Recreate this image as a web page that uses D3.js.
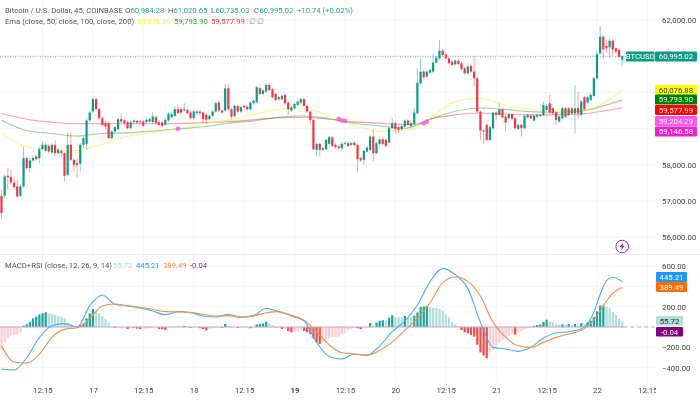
<!DOCTYPE html>
<html><head><meta charset="utf-8">
<script src="https://cdn.jsdelivr.net/npm/d3@7"></script>
<style>
html,body{margin:0;padding:0;background:#fff;overflow:hidden}
svg{display:block;filter:blur(0.35px)}
text{font-family:Roboto,sans-serif}
</style></head><body><div id="chart"></div>
<script>
const opens=[57144,57144,57696,57660,57510,57402,57144,57402,58184,57908,
58120,58230,58184,58432,58386,58524,58340,58552,58322,58386,
58322,57724,58552,58138,58046,58028,58552,58580,59224,59472,
59812,59536,59288,59150,59150,58736,58920,58984,59260,59224,
59178,59012,59178,59214,59196,59196,59178,59196,59178,59316,
59178,59168,59104,59224,59316,59352,59536,59536,59500,59518,
59444,59288,59426,59472,59444,59380,59260,59352,59472,59720,
59498,59498,60114,59534,59350,59626,59470,59626,59608,59534,
59700,59728,60114,59958,60022,60206,60086,59958,59810,59810,
59930,59718,59498,59562,59654,59718,59810,59626,59470,59240,
58412,58578,58412,58430,58578,58752,58550,58504,58458,58578,
58596,58550,58614,58550,58182,58136,58366,58412,58780,58320,
58578,58706,58688,58614,59010,59148,59038,58982,59056,59222,
59074,59130,59424,60252,60574,60436,60546,60574,60822,60942,
61154,61052,60942,60850,60776,60878,60804,60666,60528,60730,
60574,60390,59470,58918,59102,58688,59010,59442,59378,59534,
59332,59286,59396,59286,58992,59102,59010,59314,59350,59222,
59332,59378,59378,59516,59700,59562,59452,59194,59286,59562,
59378,59562,59424,59562,59378,59866,59718,59792,59902,60390,
61080,61540,61282,61246,61430,61218,61172,60900];
const highs=[57310,57724,57908,57862,57660,57586,57450,58506,58230,58184,
58248,58276,58506,58644,58600,58580,58600,58672,58460,58430,
58360,58874,58874,58180,58184,58600,58780,59270,59480,59850,
59868,59570,59330,59224,59200,58960,59080,59300,59408,59270,
59220,59220,59260,59250,59240,59240,59280,59300,59444,59360,
59220,59210,59280,59450,59450,59620,59656,59580,59702,59560,
59490,59520,59520,59510,59480,59420,59390,59510,59750,59770,
59540,60234,60234,59570,59670,59670,59630,59660,59650,59760,
59810,60180,60160,60090,60250,60270,60130,60000,59900,59940,
59970,59750,59630,59720,59780,59850,59850,59660,59500,59270,
58610,58610,58490,58720,58800,58790,58590,58540,58620,58650,
58640,58630,58660,58590,58220,58420,58510,58820,58982,58630,
58750,58750,58730,59050,59286,59190,59080,59110,59260,59260,
59240,59560,60666,60942,60620,60620,60660,61052,61000,61448,
61200,61100,60980,60890,60920,60920,60840,60700,60750,60770,
61006,60420,59500,58980,59140,59075,59480,59480,59700,59570,
59370,59430,59430,59320,59140,59140,59390,59420,59390,59390,
59410,59410,59746,59680,59930,59600,59480,59370,59600,59600,
59600,59600,60206,60022,59790,59900,59900,59970,60430,61126,
61834,61580,61450,61480,61470,61250,61210,61020];
const lows=[56528,57080,57310,57450,57310,57080,57106,57356,57862,57788,
58092,58120,58046,58414,58340,58320,58300,58230,58280,58230,
57540,57680,58100,57815,57660,57815,58460,58414,59190,59430,
59500,59250,59060,58966,58700,58700,58870,58950,59160,59100,
58980,58990,59130,59130,59130,59040,59130,59160,59130,59110,
59060,59040,59070,59190,59280,59320,59390,59400,59470,59390,
59250,59250,59390,59390,59150,59150,59220,59320,59440,59460,
59400,59460,59500,59258,59310,59430,59430,59550,59500,59500,
59660,59690,59920,59920,59990,60030,59830,59740,59770,59770,
59660,59378,59460,59530,59620,59680,59590,59440,59100,58400,
58228,58228,58380,58400,58540,58490,58450,58420,58400,58540,
58490,58510,58510,57814,58080,57990,58330,58380,58090,58290,
58540,58540,58480,58580,58980,58860,58880,58950,59020,59070,
59030,59090,59390,60220,60380,60400,60510,60540,60790,60900,
61000,60910,60770,60720,60740,60750,60600,60490,60490,60540,
60160,59440,58688,58578,58650,58650,58970,59240,59350,59280,
58918,59250,59230,58980,58960,58780,58980,59280,59250,59190,
59300,59320,59350,59480,59410,59390,59102,59160,59250,59290,
59340,59390,58872,59286,59340,59500,59680,59760,59870,60350,
61040,60942,61090,60960,61000,61060,60950,60735];
const closes=[56666,57678,57660,57510,57384,57126,57402,58184,57908,58120,
58184,58156,58432,58552,58552,58368,58552,58322,58414,58322,
57696,58552,58138,58000,58000,58552,58736,59224,59444,59812,
59536,59288,59104,59058,58736,58920,59040,59260,59196,59150,
59012,59178,59224,59168,59168,59076,59242,59260,59334,59150,
59104,59076,59242,59408,59408,59536,59426,59444,59536,59426,
59288,59472,59472,59426,59260,59242,59352,59472,59702,59500,
59442,60114,59534,59332,59626,59470,59590,59590,59534,59718,
59774,60142,59958,60050,60206,60068,59866,59792,59866,59902,
59700,59534,59590,59682,59746,59810,59626,59470,59240,58430,
58578,58412,58458,58688,58762,58522,58486,58458,58578,58596,
58522,58596,58540,58154,58118,58384,58476,58780,58320,58596,
58706,58578,58522,59010,59148,58982,58964,59074,59222,59102,
59148,59442,60270,60574,60418,60574,60620,60822,60960,61154,
61034,60942,60804,60758,60878,60786,60638,60528,60712,60574,
60390,59470,58946,58946,58688,59038,59442,59378,59534,59314,
59166,59396,59268,59010,59102,59010,59350,59378,59286,59350,
59378,59350,59654,59626,59442,59424,59240,59332,59562,59332,
59562,59424,59562,59424,59746,59534,59866,59930,60390,61062,
61540,61190,61218,61430,61190,61126,60984,60995];
const hist=[-226,-151,-112,-89,-79,-72,-52,13,26,52,
85,102,125,134,144,134,131,125,111,102,
85,46,26,0,-6,20,36,85,134,177,
157,134,108,79,43,6,-6,-2,-3,0,
-20,-5,-6,-16,-20,-20,-18,-10,-3,-3,
-20,-23,-30,-5,3,2,3,3,10,3,
-8,-2,1,-12,-20,-33,-20,-10,-3,-3,
-8,30,13,-2,0,-10,-3,-3,-3,-12,
0,26,30,36,50,36,18,-3,-3,-20,
-20,-40,-52,-52,-45,-33,-40,-52,-70,-112,
-150,-167,-144,-118,-108,-100,-98,-92,-72,-56,
-33,-20,-10,-13,-20,-6,0,39,13,43,
62,66,66,92,115,102,98,98,108,98,
97,111,144,197,203,207,197,190,187,177,
157,125,95,46,26,10,-30,-52,-62,-79,
-95,-174,-250,-282,-308,-250,-226,-190,-151,-128,
-102,-85,-72,-75,-59,-39,-26,-13,-3,10,
20,26,52,72,56,46,33,23,26,20,
30,20,30,23,39,30,46,62,98,154,
210,213,200,184,151,118,85,56];
const emaBars=[0,8,16,24,28,32,40,48,56,64,72,80,88,96,104,112,120,128,132,136,144,152,160,168,176,184,192,197];
const ema50=[58874,58497,58414,58396,58478,58570,58782,58892,59003,59132,59240,59387,59525,59562,59350,59093,58927,58946,59038,59277,59746,59838,59645,59534,59516,59498,59746,60077];
const ema100=[59233,58948,58865,58791,58828,58865,58883,58929,58994,59049,59148,59212,59314,59350,59277,59148,59074,59010,59102,59258,59479,59571,59525,59470,59452,59488,59654,59794];
const ema200=[59417,59260,59178,59132,59132,59132,59132,59132,59141,59168,59194,59240,59304,59314,59258,59185,59148,59111,59130,59258,59378,59433,59396,59378,59387,59406,59498,59578];
const crossBars=[56,107,108,109,134,135];
const crossPrices=[58994,59258,59222,59212,59150,59195];
const macdBars=[0,4,8,12,16,20,24,28,32,36,40,44,48,52,56,60,64,68,72,76,80,84,88,92,96,100,104,108,112,116,120,124,128,132,136,140,144,148,152,156,160,164,168,172,176,180,184,188,190,192,194,196,197];
const macdLine=[-413,-423,-302,-105,13,33,0,210,315,223,207,187,157,121,151,141,108,98,125,95,112,184,151,115,62,-151,-289,-315,-266,-276,-187,-46,59,216,446,577,515,380,46,-200,-216,-239,-200,-108,-59,-46,-20,144,320,456,490,466,445];
const signalLine=[-184,-344,-354,-269,-102,-23,-7,85,207,226,210,194,174,151,148,144,125,108,112,98,108,141,151,108,66,-46,-174,-253,-266,-276,-230,-148,-33,82,239,436,492,449,302,46,-102,-184,-200,-151,-102,-69,-33,69,160,256,330,374,389];
const priceTicks=[62000,58000,57000,56000];
const gridPrices=[62000,61000,60000,59000,58000,57000,56000];
const macdTicks=[600,200,-200,-400];
const macdGrid=[600,400,200,0,-200,-400];
const timeBars=[13,29,45,61,77,93,109,125,141,157,173,189,205];
const timeLabels=["12:15","17","12:15","18","12:15","19","12:15","20","12:15","21","12:15","22","12:15"];
const titleItems=[["Bitcoin / U.S. Dollar, 45, COINBASE",5,"#555"],["O",125,"#555"],["60,984.28",130.5,"#26a69a"],["H",168,"#555"],["61,020.65",173.5,"#26a69a"],["L",211,"#555"],["60,735.03",215.5,"#26a69a"],["C",254,"#555"],["60,995.02",259.5,"#26a69a"],["+10.74 (+0.02%)",297,"#26a69a"]];
const emaItems=[["Ema (close, 50, close, 100, close, 200)",5,"#555"],["60,076.88",137,"#f4f43a"],["59,793.90",174,"#2a9a2a"],["59,577.99",211,"#ee3333"],["∅",249,"#888"],["∅",257,"#888"]];
const macdItems=[["MACD+RSI (close, 12, 26, 9, 14)",5,"#555"],["55.72",113,"#b2dfdb"],["445.21",136,"#2196f3"],["389.49",163,"#ff8a3c"],["-0.04",190,"#9c27b0"]];
const topLabels=[[60076.88,"60,076.88","#ffff00","#333"],[59793.90,"59,793.90","#008000","#e8f4e8"],[59577.99,"59,577.99","#ff0000","#ffe8e8"],[59204.29,"59,204.29","#ff55ee","#fff"],[59146.58,"59,146.58","#ee22cc","#fff"]];
const macdLabels=[[445.21,"445.21","#2196f3","#fff",0],[389.49,"389.49","#ff6d00","#fff",0],[55.72,"55.72","#b2dfdb","#333",0],[-0.04,"-0.04","#800080","#fff",0]];

const W=700,H=400,plotR=655;
const axisFont="7.8px",legendFont="7.7px";
const svg=d3.select("#chart").append("svg").attr("width",W).attr("height",H);
const x=d3.scaleLinear().domain([0,197]).range([1.5,622.2]);
const y=d3.scaleLinear().domain([62000,56000]).range([20,237.2]);
const m=d3.scaleLinear().domain([600,-400]).range([266,367.7]);
const clip=svg.append("defs").append("clipPath").attr("id","plot").append("rect").attr("x",0).attr("y",0).attr("width",plotR).attr("height",H);
const grid=svg.append("g").attr("stroke","#f3f5f9").attr("stroke-width",1).attr("clip-path","url(#plot)");
grid.selectAll(".v").data(timeBars).join("line").attr("x1",d=>x(d)).attr("x2",d=>x(d)).attr("y1",0).attr("y2",382);
grid.selectAll(".h").data(gridPrices).join("line").attr("x1",0).attr("x2",plotR).attr("y1",d=>y(d)).attr("y2",d=>y(d));
grid.selectAll(".m").data(macdGrid).join("line").attr("x1",0).attr("x2",plotR).attr("y1",d=>m(d)).attr("y2",d=>m(d));
svg.append("line").attr("x1",0).attr("x2",W).attr("y1",254.5).attr("y2",254.5).attr("stroke","#eceef3");

// ema
const lineFor=(vals,bars,sc)=>d3.line().x((d,i)=>x(bars[i])).y(d=>sc(d)).curve(d3.curveMonotoneX)(vals);
[[ema200,"#ff0000",.38],[ema100,"#008000",.38],[ema50,"#ffee33",.55]].forEach(([v,c,o])=>{
 svg.append("path").attr("d",lineFor(v,emaBars,y)).attr("fill","none").attr("stroke",c).attr("stroke-opacity",o).attr("stroke-width",1.1);
});
// current price line
svg.append("line").attr("x1",0).attr("x2",plotR).attr("y1",y(60995.02)).attr("y2",y(60995.02)).attr("stroke","#26a69a").attr("stroke-opacity",.7).attr("stroke-dasharray","1 1.5").attr("stroke-width",1);

// candles
const bars=d3.range(closes.length);
const up="#0f9a84",dn="#f23645";
const col=i=>closes[i]>=opens[i]?up:dn;
svg.append("g").selectAll("line").data(bars).join("line")
 .attr("x1",i=>x(i)).attr("x2",i=>x(i)).attr("y1",i=>y(highs[i])).attr("y2",i=>y(lows[i]))
 .attr("stroke",col).attr("stroke-opacity",.6).attr("stroke-width",.8);
svg.append("g").selectAll("rect").data(bars).join("rect")
 .attr("x",i=>x(i)-1.1).attr("width",2.2)
 .attr("y",i=>y(Math.max(opens[i],closes[i])))
 .attr("height",i=>Math.max(.8,Math.abs(y(opens[i])-y(closes[i]))))
 .attr("fill",col);
// crosses
svg.append("g").selectAll("circle").data(crossBars).join("circle")
 .attr("cx",d=>x(d)).attr("cy",(d,i)=>y(crossPrices[i])).attr("r",2.4).attr("fill","#f55fdc").attr("fill-opacity",.85);

// histogram
const hCol=i=>{const v=hist[i],p=i?hist[i-1]:v;return v>=0?(v>p?"#26a69a":"#b2dfdb"):(v<p?"#ef5350":"#ffcdd2");};
svg.append("g").selectAll("rect").data(bars).join("rect")
 .attr("x",i=>x(i)-1.1).attr("width",2.3)
 .attr("y",i=>Math.min(m(0),m(hist[i]))).attr("height",i=>Math.abs(m(hist[i])-m(0)))
 .attr("fill",hCol);
svg.append("line").attr("x1",0).attr("x2",x(197)+1).attr("y1",m(0)).attr("y2",m(0)).attr("stroke","#c8a6d8").attr("stroke-width",1);
svg.append("line").attr("x1",x(197)+1).attr("x2",plotR).attr("y1",m(0)).attr("y2",m(0)).attr("stroke","#b8b8b8").attr("stroke-dasharray","4 3").attr("stroke-width",1);
svg.append("path").attr("d",lineFor(macdLine,macdBars,m)).attr("fill","none").attr("stroke","#4aaee8").attr("stroke-width",1.1);
svg.append("path").attr("d",lineFor(signalLine,macdBars,m)).attr("fill","none").attr("stroke","#f0904a").attr("stroke-width",1.1);

// axes
const fmt=d3.format(",.2f");
const yAxis=d3.axisRight(y).tickValues(priceTicks).tickFormat(fmt).tickSize(0).tickPadding(0);
const yg=svg.append("g").attr("transform","translate(662,0)").call(yAxis);
const mAxis=d3.axisRight(m).tickValues(macdTicks).tickFormat(d=>d3.format(".2f")(d)).tickSize(0).tickPadding(0);
const mg=svg.append("g").attr("transform","translate(662,0)").call(mAxis);
[yg,mg].forEach(g=>{g.select(".domain").remove();g.selectAll("text").attr("fill","#444").style("font-size",axisFont).style("font-family","Roboto,sans-serif");});
const tAxis=d3.axisBottom(x).tickValues(timeBars).tickFormat((d,i)=>timeLabels[i]).tickSize(0).tickPadding(0);
const tg=svg.append("g").attr("transform","translate(0,387)").attr("clip-path","url(#plotT)").call(tAxis);
svg.select("defs").append("clipPath").attr("id","plotT").append("rect").attr("x",0).attr("y",-10).attr("width",plotR+1).attr("height",40);
tg.select(".domain").remove();
tg.selectAll("text").attr("fill","#444").style("font-size",axisFont).style("font-family","Roboto,sans-serif").style("font-weight",(d,i)=>timeLabels[i]==="19"?"700":"400");

// legends
const legend=(items,yy)=>svg.append("g").selectAll("text").data(items).join("text").attr("x",d=>d[1]).attr("y",yy).attr("fill",d=>d[2]).style("font-size",legendFont).text(d=>d[0]);
legend(titleItems,13);legend(emaItems,24);legend(macdItems,268);

// right labels
const box=(g,x0,x1,y0,h,fill,tc,t)=>{
 g.append("rect").attr("x",x0).attr("y",y0).attr("width",x1-x0).attr("height",h).attr("fill",fill).attr("rx",1);
 g.append("text").attr("x",(x0+x1)/2).attr("y",y0+h/2+2.8).attr("text-anchor","middle").attr("fill",tc).style("font-size",axisFont).text(t);
};
const lab=svg.append("g");
box(lab,626,654.5,y(60995.02)-5,10,"#0f9a84","#fff","BTCUSD");
box(lab,655,697,y(60995.02)-5,10,"#0f9a84","#fff","60,995.02");
const topYs=[85,94.5,105,116,126.5];
topLabels.forEach((d,i)=>box(lab,655,697,topYs[i],i==0?9.5:10,d[2],d[3],d[1]));
const mYs=[272,282,316,327];
const mX=[687,687,683,683];
macdLabels.forEach((d,i)=>box(lab,656,mX[i],mYs[i],i<2?10:9.6,d[2],d[3],d[1]));

// lightning badge
const bx=x(197),by=246.5;
const b=svg.append("g").attr("transform",`translate(${bx},${by})`);
b.append("circle").attr("r",6.3).attr("fill","#fff").attr("stroke","#8e2aa8").attr("stroke-width",1);
b.append("path").attr("d","M1.2,-4L-2.4,0.6H-0.4L-1.2,4L2.4,-0.8H0.4Z").attr("fill","#8e2aa8");
</script></body></html>
